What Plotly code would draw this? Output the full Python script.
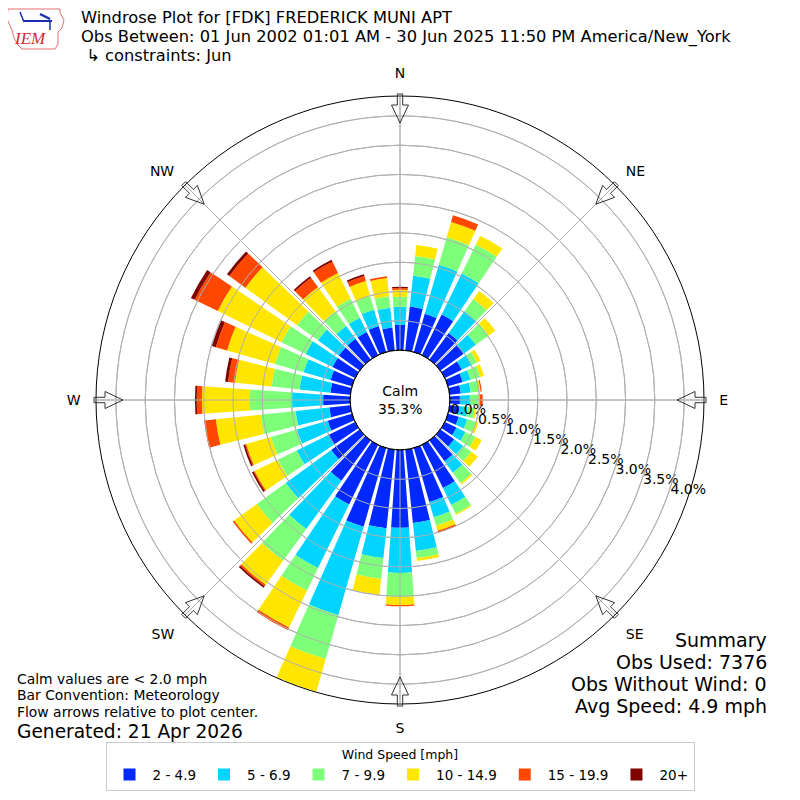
import math
import plotly.graph_objects as go

# ---------------- data ----------------
directions = list(range(0, 360, 10))
speed_bins = ["2 - 4.9", "5 - 6.9", "7 - 9.9", "10 - 14.9", "15 - 19.9", "20+"]
bin_colors = ["#0028ff", "#00d4ff", "#7dff7a", "#ffe600", "#ff4700", "#800000"]

# percent of observations per direction, per speed bin
pct_2_5 = [0.43, 0.75, 0.68, 0.77, 0.56, 0.49, 0.32, 0.26, 0.19, 0.17, 0.17, 0.19,
           0.22, 0.29, 0.44, 0.82, 0.96, 1.26, 1.33, 1.35, 1.40, 1.13, 0.85, 0.60,
           0.51, 0.43, 0.36, 0.46, 0.34, 0.38, 0.43, 0.44, 0.44, 0.44, 0.46, 0.39]
pct_5_7 = [0.31, 0.53, 0.87, 0.78, 0.46, 0.26, 0.19, 0.14, 0.17, 0.17, 0.14, 0.15,
           0.17, 0.19, 0.24, 0.32, 0.27, 0.48, 0.77, 0.51, 1.57, 1.21, 1.02, 0.96,
           0.60, 0.55, 0.58, 0.53, 0.53, 0.48, 0.51, 0.44, 0.27, 0.27, 0.29, 0.34]
pct_7_10 = [0.17, 0.34, 0.49, 0.55, 0.26, 0.27, 0.10, 0.17, 0.14, 0.15, 0.12, 0.15,
            0.19, 0.17, 0.22, 0.17, 0.15, 0.12, 0.41, 0.36, 0.78, 0.43, 0.67, 0.61,
            0.36, 0.46, 0.60, 0.72, 0.48, 0.51, 0.46, 0.44, 0.31, 0.36, 0.24, 0.20]
pct_10_15 = [0.12, 0.19, 0.27, 0.17, 0.17, 0.14, 0.07, 0.07, 0.03, 0.02, 0.03, 0.05,
             0.12, 0.14, 0.03, 0.02, 0.09, 0.05, 0.14, 0.27, 0.58, 0.70, 0.51, 0.48,
             0.44, 0.44, 0.77, 0.82, 0.63, 0.85, 1.21, 1.09, 0.51, 0.49, 0.27, 0.31]
pct_15_20 = [0.03, 0.00, 0.12, 0.00, 0.00, 0.00, 0.00, 0.00, 0.02, 0.05, 0.00, 0.00,
             0.00, 0.00, 0.00, 0.00, 0.03, 0.00, 0.02, 0.00, 0.00, 0.05, 0.03, 0.03,
             0.02, 0.02, 0.20, 0.09, 0.12, 0.20, 0.44, 0.34, 0.20, 0.22, 0.09, 0.03]
pct_20_up = [0.02, 0.00, 0.00, 0.00, 0.00, 0.00, 0.00, 0.00, 0.00, 0.00, 0.00, 0.00,
             0.00, 0.00, 0.00, 0.00, 0.00, 0.00, 0.00, 0.00, 0.00, 0.00, 0.03, 0.00,
             0.03, 0.03, 0.00, 0.03, 0.05, 0.07, 0.07, 0.05, 0.03, 0.03, 0.03, 0.00]
series = [pct_2_5, pct_5_7, pct_7_10, pct_10_15, pct_15_20, pct_20_up]

radial_ticks = [0.0, 0.5, 1.0, 1.5, 2.0, 2.5, 3.0, 3.5, 4.0]
compass_angles = [0, 45, 90, 135, 180, 225, 270, 315]
compass_labels = ["N", "NE", "E", "SE", "S", "SW", "W", "NW"]

calm_pct = 35.3
title_lines = ["Windrose Plot for [FDK] FREDERICK MUNI APT",
               "Obs Between: 01 Jun 2002 01:01 AM - 30 Jun 2025 11:50 PM America/New_York",
               " \u21b3 constraints: Jun"]
notes = ["Calm values are < 2.0 mph", "Bar Convention: Meteorology",
         "Flow arrows relative to plot center."]
generated = "Generated: 21 Apr 2026"
summary = ["Summary", "Obs Used: 7376", "Obs Without Wind: 0", "Avg Speed: 4.9 mph"]

FONT = "DejaVu Sans"
W = H = 800
OFF = 8            # page body margin of the html page
CX, CY, R = 400, 400, 304
HOLE_PX = 50
RMAX = 4.34
GRID = "#b0b0b0"


def px(x):
    return (x - OFF) / W


def py(y):
    return 1 - (y - OFF) / H


def rad_px(v):
    # pixel radius of a radial value, same mapping as the polar axis (hole + linear)
    return HOLE_PX + (R - HOLE_PX) * v / RMAX


fig = go.Figure()
for name, vals, col in zip(speed_bins, series, bin_colors):
    fig.add_trace(go.Barpolar(
        r=vals, theta=directions, name=name, width=8,
        marker=dict(color=col, line=dict(width=0)),
    ))

fig.update_layout(
    width=W, height=H,
    margin=dict(l=0, r=0, t=0, b=0),
    paper_bgcolor="white",
    font=dict(family=FONT, size=13, color="black"),
    polar=dict(
        domain=dict(x=[px(CX - R), px(CX + R)], y=[py(CY + R), py(CY - R)]),
        hole=HOLE_PX / R,
        bgcolor="white",
        barmode="stack",
        angularaxis=dict(
            rotation=90, direction="clockwise",
            tickmode="array", tickvals=compass_angles, ticktext=compass_labels,
            ticks="outside", ticklen=12, tickcolor="rgba(0,0,0,0)",
            showline=True, linecolor="black", linewidth=1,
            gridcolor=GRID, gridwidth=1,
            tickfont=dict(size=14, family=FONT),
        ),
        radialaxis=dict(
            range=[0, RMAX], angle=-20, tickangle=-20,
            tickmode="array", tickvals=radial_ticks,
            ticktext=[f"{v:.1f}%" for v in radial_ticks],
            showline=False, ticks="", side="counterclockwise",
            gridcolor=GRID, gridwidth=1,
            tickfont=dict(size=14, family=FONT),
            layer="above traces",
        ),
    ),
    legend=dict(
        orientation="h", x=px(400), xanchor="center", y=py(742), yanchor="top",
        bordercolor="#cccccc", borderwidth=1, bgcolor="white", itemwidth=36,
        title=dict(text="Wind Speed [mph]", side="top center", font=dict(size=12.5)),
        font=dict(size=13.5), traceorder="normal",
    ),
    showlegend=True,
)

ann = []
for i, t in enumerate(title_lines):
    ann.append(dict(text=t, x=px(80), y=py(17.5 + 19 * i), xref="paper", yref="paper",
                    xanchor="left", yanchor="middle", showarrow=False, borderpad=0,
                    font=dict(size=16.3)))
for i, t in enumerate(notes):
    ann.append(dict(text=t, x=px(16), y=py(678.5 + 16.5 * i), xref="paper", yref="paper",
                    xanchor="left", yanchor="middle", showarrow=False, borderpad=0,
                    font=dict(size=13.9)))
ann.append(dict(text=generated, x=px(16), y=py(731.5), xref="paper", yref="paper",
                xanchor="left", yanchor="middle", showarrow=False, borderpad=0,
                font=dict(size=18.6)))
for i, t in enumerate(summary):
    ann.append(dict(text=t, x=px(768), y=py(640 + 22 * i), xref="paper", yref="paper",
                    xanchor="right", yanchor="middle", showarrow=False, borderpad=0,
                    font=dict(size=19)))
ann.append(dict(text=f"Calm<br>{calm_pct:.1f}%", x=px(CX), y=py(CY), xref="paper", yref="paper",
                xanchor="center", yanchor="middle", showarrow=False, font=dict(size=14)))
# IEM logo text
ann.append(dict(text="<i>IEM</i>", x=px(30), y=py(39), xref="paper", yref="paper",
                xanchor="center", yanchor="middle", showarrow=False,
                font=dict(size=17, family="Liberation Serif", color="#d42a2a")))

shapes = []
# grid drawn above the bars, as in the reference
for v in radial_ticks[1:]:
    rr = rad_px(v)
    shapes.append(dict(type="circle", xref="paper", yref="paper",
                       x0=px(CX - rr), x1=px(CX + rr), y0=py(CY + rr), y1=py(CY - rr),
                       line=dict(color=GRID, width=1), layer="above"))
for a in compass_angles:
    t = math.radians(a)
    shapes.append(dict(type="line", xref="paper", yref="paper",
                       x0=px(CX + HOLE_PX * math.sin(t)), y0=py(CY - HOLE_PX * math.cos(t)),
                       x1=px(CX + R * math.sin(t)), y1=py(CY - R * math.cos(t)),
                       line=dict(color=GRID, width=1), layer="above"))
# calm circle outline
shapes.append(dict(type="circle", xref="paper", yref="paper",
                   x0=px(CX - HOLE_PX), x1=px(CX + HOLE_PX),
                   y0=py(CY + HOLE_PX), y1=py(CY - HOLE_PX),
                   line=dict(color="black", width=1), layer="above"))


# flow arrows at compass points, pointing toward the plot center
def arrow_path(a_deg):
    a = math.radians(a_deg)
    pts = [(277, 0), (295, 8.5), (295, 2.7), (306, 2.7), (306, -2.7), (295, -2.7), (295, -8.5)]
    out = []
    for u, v in pts:
        x = CX + u * math.sin(a) + v * math.cos(a)
        y = CY - u * math.cos(a) + v * math.sin(a)
        out.append((px(x), py(y)))
    return "M " + " L ".join(f"{x:.5f},{y:.5f}" for x, y in out) + " Z"


for a in compass_angles:
    shapes.append(dict(type="path", path=arrow_path(a), xref="paper", yref="paper",
                       fillcolor="rgba(0,0,0,0)", line=dict(color="#333333", width=1)))

# IEM logo outline (approximate state outline)
logo = [(8, 9), (60, 9), (60, 13), (64, 20), (62, 28), (58, 32), (58, 44), (55, 49),
        (22, 49), (18, 45), (14, 38), (12, 30), (7, 19)]
shapes.append(dict(type="path", xref="paper", yref="paper",
                   path="M " + " L ".join(f"{px(x):.5f},{py(y):.5f}" for x, y in logo) + " Z",
                   line=dict(color="#e07070", width=1)))
shapes.append(dict(type="line", xref="paper", yref="paper", x0=px(24), y0=py(21),
                   x1=px(52), y1=py(21), line=dict(color="#1a2fb0", width=2)))
shapes.append(dict(type="line", xref="paper", yref="paper", x0=px(20), y0=py(12),
                   x1=px(24), y1=py(22), line=dict(color="#1a2fb0", width=1.5)))
shapes.append(dict(type="line", xref="paper", yref="paper", x0=px(40), y0=py(14),
                   x1=px(50), y1=py(19), line=dict(color="#1a2fb0", width=2.5)))
shapes.append(dict(type="line", xref="paper", yref="paper", x0=px(50), y0=py(21),
                   x1=px(50), y1=py(30), line=dict(color="#1a2fb0", width=1.5)))

fig.update_layout(annotations=ann, shapes=shapes)
fig.write_html("out.html")
